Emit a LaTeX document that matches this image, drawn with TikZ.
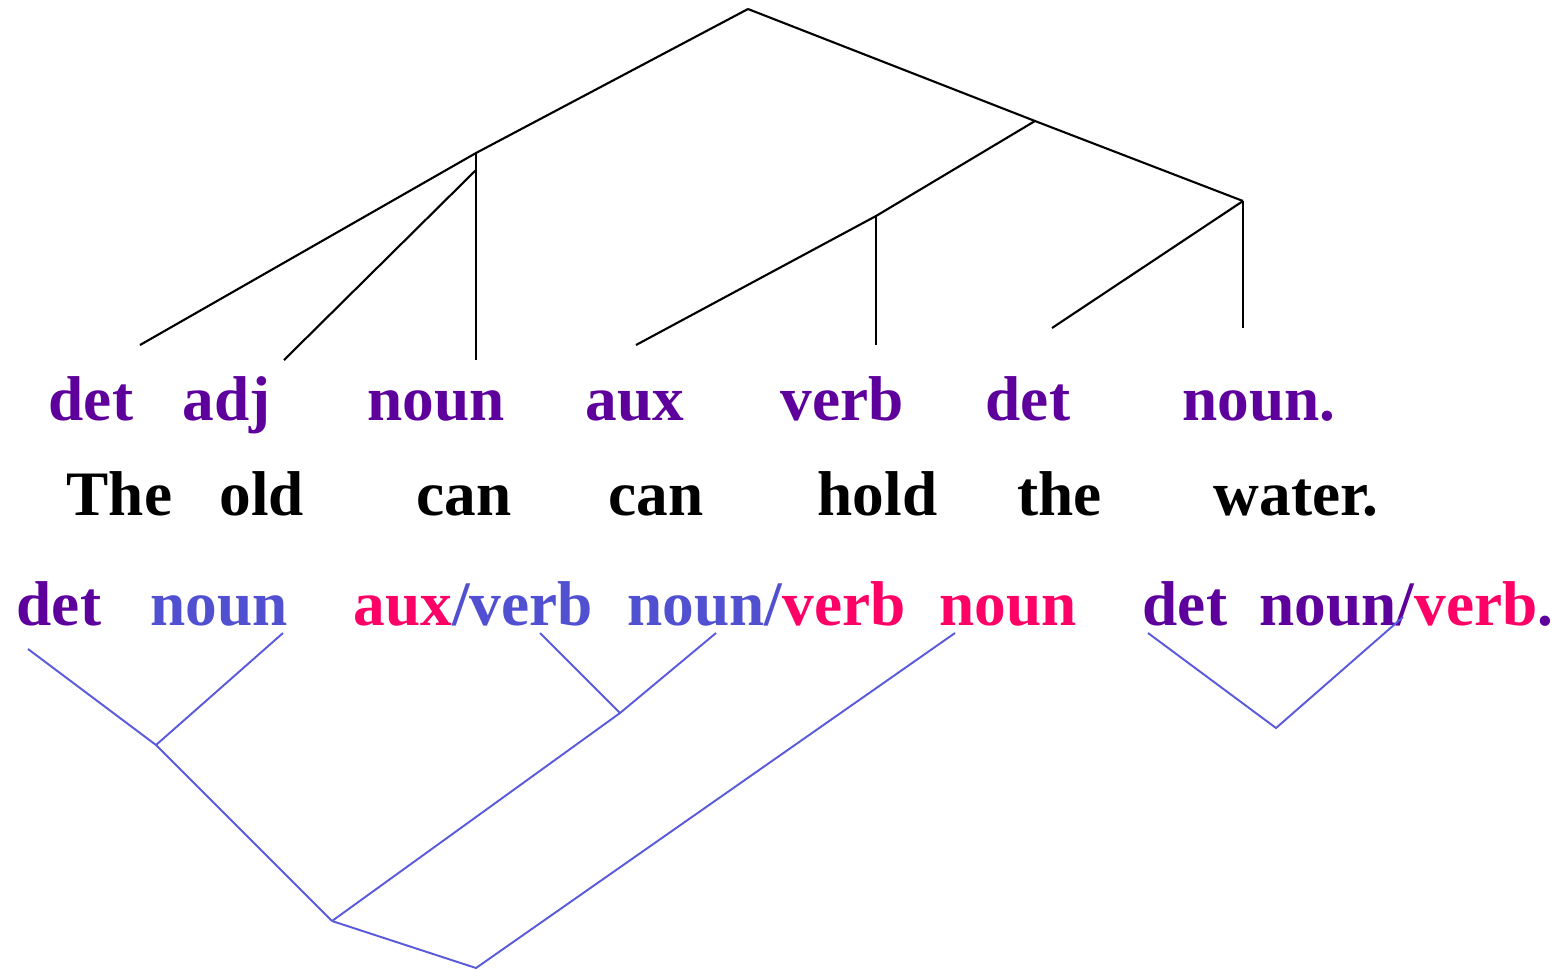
\documentclass[tikz,border=0pt]{standalone}
\usepackage{fontspec}
\setmainfont{Liberation Serif}
\usetikzlibrary{positioning}
\definecolor{tagpurple}{HTML}{5E009C}
\definecolor{tagblue}{HTML}{5050D0}
\definecolor{tagpink}{HTML}{FF0066}
\definecolor{linkblue}{HTML}{5A5ADC}

\begin{document}
\begin{tikzpicture}[x=0.01cm,y=-0.01cm,
  word/.style={anchor=base west,inner sep=0pt,font=\fontsize{18}{22}\selectfont\bfseries},
  tag/.style={word,text=tagpurple},
  branch/.style={line width=0.6pt,black},
  link/.style={line width=0.55pt,linkblue}]
\useasboundingbox (0,0) rectangle (1567,969);
% correct tags and the sentence
\foreach \x/\label [count=\i] in {48/det,182/adj,367/noun,585/aux,780/verb,985/det,1182/noun.}{
  \node[tag] (t\i) at (\x,420) {\label};}
\foreach \x/\label [count=\i] in {66/The,219/old,416/can,608/can,817/hold,1017/the,1213/water.}{
  \node[word] (w\i) at (\x,515) {\label};}
% candidate tags
\node[word,text=tagpurple] (c1) at (16,625) {det};
\node[word,text=tagblue] (c2) at (150,625) {noun};
\node[word] (c3) at (353,625) {\textcolor{tagpink}{aux}\textcolor{tagblue}{/verb}};
\node[word] (c4) at (627,625) {\textcolor{tagblue}{noun/}\textcolor{tagpink}{verb}};
\node[word,text=tagpink] (c5) at (939,625) {noun};
\node[word,text=tagpurple] (c6) at (1142,625) {det};
\node[word] (c7) at (1259,625) {\textcolor{tagpurple}{noun/}\textcolor{tagpink}{verb}\textcolor{tagpurple}{.}};
% upper tree
\coordinate (root) at (748,9);
\coordinate (np) at (476,153);
\coordinate (np2) at (476,170);
\coordinate (vp) at (1035,121);
\coordinate (vg) at (876,216);
\coordinate (obj) at (1243,201);
\foreach \i/\x/\y in {1/140/345,2/284/360,3/476/360,4/636/345,5/876/345,6/1052/328,7/1243/328}{
  \coordinate (l\i) at (\x,\y);}
\draw[branch] (root) -- (np) -- (l1);
\draw[branch] (np) -- (l3);
\draw[branch] (np2) -- (l2);
\draw[branch] (root) -- (vp) -- (obj);
\draw[branch] (vp) -- (vg) -- (l4);
\draw[branch] (vg) -- (l5);
\draw[branch] (obj) -- (l6);
\draw[branch] (obj) -- (l7);
% lower tree
\foreach \i/\x/\y in {1/28/649,2/283/633,3/540/633,4/716/633,5/955/633,6/1148/633,7/1403/617}{
  \coordinate (a\i) at (\x,\y);}
\coordinate (j1) at (156,745);
\coordinate (j2) at (620,713);
\coordinate (j3) at (332,921);
\coordinate (j4) at (476,968);
\coordinate (j5) at (1276,728);
\draw[link] (a1) -- (j1) -- (a2);
\draw[link] (j1) -- (j3);
\draw[link] (a3) -- (j2) -- (a4);
\draw[link] (j2) -- (j3);
\draw[link] (j3) -- (j4) -- (a5);
\draw[link] (a6) -- (j5) -- (a7);
\end{tikzpicture}
\end{document}
